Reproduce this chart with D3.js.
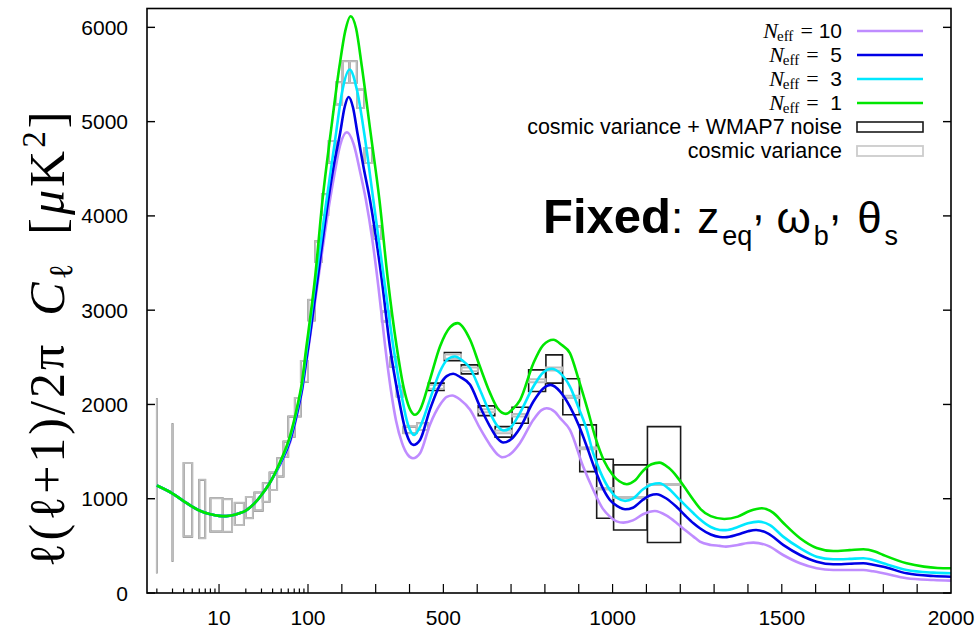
<!DOCTYPE html>
<html><head><meta charset="utf-8">
<script src="https://cdn.jsdelivr.net/npm/d3@7"></script>
<style>body{margin:0;background:#fff}</style>
</head><body>
<svg id="chart" width="980" height="629"></svg>
<script>
// ---- Power spectra D_l = l(l+1)C_l/2pi [muK^2] for four values of N_eff ----
const ell10 = [2,3,4,5,6,8,10,12,15,17,20,25,30,37,48,63,75,86,96,102,130,165,180,195,215,235,255,271,290,308,328,345,360,378,395,410,431,460,490,510,526,550,579,608,638,660,675,700,726,766,790,805,830,845,874,913,943,970,992,1012,1032,1060,1090,1110,1125,1160,1190,1215,1239,1258,1290,1317,1335,1370,1400,1416,1460,1504,1554,1603,1652,1700,1741,1770,1800,1869,1948,2000];
const cl10  = [1140,1055,975,915,875,835,818,815,830,846,875,950,1040,1164,1350,1600,1880,2150,2450,2615,3323,4172,4480,4750,4887,4760,4450,4172,3750,3250,2615,2150,1830,1590,1465,1430,1483,1783,1996,2080,2095,2050,1943,1748,1571,1470,1440,1480,1589,1837,1940,1960,1920,1855,1730,1341,1093,900,810,760,746,770,835,862,870,820,740,665,598,545,510,500,492,510,530,534,500,403,315,262,244,244,244,230,209,156,138,131];

const ell5 = [2,3,4,5,6,8,10,12,15,17,20,25,30,37,48,63,75,86,96,101,128,160,177,195,208,220,233,246,265,283,318,342,367,390,411,431,460,490,510,529,550,579,608,638,660,677,700,726,766,795,817,845,874,900,924,945,970,992,1015,1037,1060,1090,1110,1130,1160,1190,1215,1239,1258,1290,1317,1332,1370,1400,1424,1460,1504,1554,1603,1652,1700,1741,1770,1800,1869,1948,2000];
const cl5  = [1140,1055,975,915,875,835,818,815,830,846,875,950,1040,1164,1360,1620,1900,2170,2480,2615,3323,4172,4550,4880,5150,5262,5150,4880,4500,4172,3323,2615,2084,1700,1571,1624,1943,2208,2300,2325,2290,2208,1978,1765,1640,1596,1630,1748,2031,2170,2208,2137,1978,1780,1553,1340,1120,987,920,888,905,990,1035,1048,1000,910,820,740,687,620,594,591,620,655,669,630,510,403,332,305,310,315,300,279,209,180,173];

const ell3 = [2,3,4,5,6,8,10,12,15,17,20,25,30,37,48,63,75,86,96,100,121,155,183,200,223,245,266,293,325,352,377,395,414,431,460,490,510,534,555,579,608,638,660,679,700,726,766,795,820,845,874,900,924,943,963,992,1015,1037,1060,1090,1115,1138,1165,1190,1215,1239,1258,1290,1317,1335,1370,1400,1431,1465,1504,1554,1603,1652,1700,1741,1770,1800,1869,1948,2000];
const cl3  = [1140,1055,975,915,875,835,818,815,830,846,875,950,1040,1164,1370,1650,1940,2220,2560,2680,3280,4172,4880,5300,5552,5330,4880,4172,3323,2615,2084,1790,1677,1762,2049,2349,2470,2509,2470,2385,2155,1908,1770,1723,1760,1908,2190,2340,2378,2332,2190,1960,1730,1480,1290,1093,1005,977,1000,1100,1150,1164,1110,1020,930,846,782,700,669,667,700,740,757,720,598,475,385,358,362,368,350,315,244,216,209];

const ell1 = [2,3,4,5,6,8,10,12,15,17,20,25,30,37,48,63,75,86,96,100,121,143,167,193,210,226,242,259,285,311,336,362,382,400,416,431,460,490,520,542,579,608,638,660,685,705,727,766,795,825,850,874,900,925,950,975,1000,1020,1042,1065,1091,1115,1138,1165,1190,1215,1239,1260,1290,1330,1370,1405,1441,1475,1504,1554,1603,1652,1700,1741,1775,1800,1869,1920,1960,2000];
const cl1  = [1140,1055,975,915,875,835,818,815,830,846,875,950,1040,1164,1380,1670,1960,2250,2615,2740,3350,4172,4880,5587,5960,6118,5990,5587,4880,4172,3323,2615,2190,1960,1890,1943,2261,2615,2820,2863,2686,2402,2120,1960,1900,1950,2049,2438,2630,2686,2630,2545,2260,1960,1640,1400,1255,1185,1154,1190,1300,1365,1383,1330,1235,1110,987,890,815,785,810,870,899,850,745,581,478,446,455,464,440,403,315,280,266,262];

const seriesNeff   = ["10", " 5", " 3", " 1"];
const seriesColors = ["#bf8cff", "#0000e6", "#00e8ff", "#00e600"];

// ---- Binned error boxes around the fiducial spectrum ----
const binLo  = [2,3,4,6,8,11,15,20,25,31,37,45,53,60,71,83,101,121,141,161,183,202,223,245,267,291,318,343,362,382,422,456,503,553,603,653,703,752,803,853,903,953,1003,1103];
const binHi  = [2,3,5,7,11,14,19,24,31,37,45,53,60,71,83,100,120,140,160,182,201,222,244,266,290,317,342,361,381,421,455,502,552,602,652,702,751,802,852,902,952,1002,1102,1201];
const binMid = [1138,1066,988,890,828,822,840,905,970,1066,1185,1332,1526,1765,1970,2350,3000,3620,4120,4680,5300,5525,5525,5243,4641,3822,2933,2450,2137,1730,1765,2187,2508,2372,1933,1709,1886,2252,2376,2081,1535,1106,1014,1150];
const cvHalf = [929,735,390,310,177,172,118,112,96,98,92,98,80,106,98,110,110,110,110,115,118,115,115,98,80,67,53,50,53,35,35,20,22,20,16,14,14,16,16,12,10,8,5,5];
const totHalf= [929,735,390,310,177,172,118,112,96,98,92,98,80,106,98,110,110,110,110,115,118,115,115,98,80,67,53,50,53,35,35,39,43,48,52,56,85,115,150,191,248,313,345,615];

// ---- Axis ticks ----
const yTicks = [0,1000,2000,3000,4000,5000,6000];
const xLabelTicks = [10,100,500,1000,1500,2000];
const xMinorLog = [2,3,4,5,6,7,8,9,20,30,40,50,60,70,80,90];
const xMajorLin = [10,100,200,300,400,500,600,700,800,900,1000,1100,1200,1300,1400,1500,1600,1700,1800,1900];

const svg = d3.select("#chart");
const L = 147, R = 951, B = 593, T = 8.5, SPLIT = 308;

// log axis up to l=100, linear beyond
const xLog = d3.scaleLog().domain([1.55, 100]).range([L, SPLIT]);
const xLin = d3.scaleLinear().domain([100, 2000]).range([SPLIT, R]);
const x = l => (l <= 100 ? xLog(l) : xLin(l));
const y = d3.scaleLinear().domain([0, 6200]).range([B, T]);

svg.append("defs").append("clipPath").attr("id", "plotclip")
  .append("rect").attr("x", L).attr("y", T).attr("width", R - L).attr("height", B - T);

const plot = svg.append("g").attr("clip-path", "url(#plotclip)");

function boxPath(i, half) {
  const p = d3.path();
  const x0 = x(binLo[i]), x1 = x(binHi[i]);
  const yt = y(binMid[i] + half[i]), yb = y(binMid[i] - half[i]);
  p.moveTo(x0, yt); p.lineTo(x1, yt); p.lineTo(x1, yb); p.lineTo(x0, yb); p.closePath();
  return p.toString();
}

const idx = d3.range(binLo.length);
plot.append("g").selectAll("path").data(idx).join("path")
  .attr("d", i => boxPath(i, totHalf))
  .attr("fill", "none").attr("stroke", "#1a1a1a").attr("stroke-width", 1.6);
plot.append("g").selectAll("path").data(idx).join("path")
  .attr("d", i => boxPath(i, cvHalf))
  .attr("fill", "none").attr("stroke", "#bdbdbd").attr("stroke-width", 2);

// spectra, drawn N_eff = 10 first so that N_eff = 1 ends up on top
const curves = [[ell10, cl10], [ell5, cl5], [ell3, cl3], [ell1, cl1]];
const line = d3.line().x(d => x(d[0])).y(d => y(d[1])).curve(d3.curveMonotoneX);
curves.forEach(([ls, vs], k) => {
  plot.append("path")
    .attr("d", line(ls.map((l, j) => [l, vs[j]])))
    .attr("fill", "none")
    .attr("stroke", seriesColors[k])
    .attr("stroke-width", 2.6)
    .attr("stroke-linejoin", "round");
});

// frame and ticks
const axes = svg.append("g").attr("stroke", "#000");
axes.append("rect").attr("x", L).attr("y", T).attr("width", R - L).attr("height", B - T)
  .attr("fill", "none").attr("stroke-width", 1.6);
yTicks.forEach(v => {
  axes.append("line").attr("x1", L).attr("x2", L + 8).attr("y1", y(v)).attr("y2", y(v)).attr("stroke-width", 1.4);
  axes.append("line").attr("x1", R - 8).attr("x2", R).attr("y1", y(v)).attr("y2", y(v)).attr("stroke-width", 1.4);
});
xMinorLog.forEach(v => {
  axes.append("line").attr("x1", x(v)).attr("x2", x(v)).attr("y1", B).attr("y2", B - 4.5).attr("stroke-width", 1.2);
});
xMajorLin.forEach(v => {
  axes.append("line").attr("x1", x(v)).attr("x2", x(v)).attr("y1", B).attr("y2", B - 9).attr("stroke-width", 1.2);
});

const sans = "'Liberation Sans', Arial, Helvetica, sans-serif";
const tserif = "'Liberation Serif', 'DejaVu Serif', serif";

svg.append("g").selectAll("text").data(yTicks).join("text")
  .attr("x", 128).attr("y", v => y(v)).attr("dy", "0.36em")
  .attr("text-anchor", "end").attr("font-family", sans).attr("font-size", 21)
  .text(v => v);
svg.append("g").selectAll("text").data(xLabelTicks).join("text")
  .attr("x", v => x(v)).attr("y", 625)
  .attr("text-anchor", "middle").attr("font-family", sans).attr("font-size", 21)
  .text(v => v);

// y-axis title
const yt = svg.append("text")
  .attr("transform", "translate(64,338) rotate(-90)")
  .attr("text-anchor", "middle").attr("font-family", tserif).attr("font-size", 50)
  .attr("letter-spacing", 3);
yt.append("tspan").text("ℓ(ℓ+1)/2π");
yt.append("tspan").attr("dx", 26).attr("font-style", "italic").text("C");
yt.append("tspan").attr("font-size", 33).attr("dy", 8).text("ℓ");
yt.append("tspan").attr("dx", 26).attr("dy", -8).text("[");
yt.append("tspan").attr("font-style", "italic").text("μ");
yt.append("tspan").text("K");
yt.append("tspan").attr("font-size", 33).attr("dy", -19).text("2");
yt.append("tspan").attr("dy", 19).text("]");

// legend
const rowY = i => 31 + 24 * i;
seriesNeff.forEach((n, k) => {
  const t = svg.append("text").attr("x", 842).attr("y", rowY(k) + 7).attr("text-anchor", "end");
  t.append("tspan").attr("font-family", tserif).attr("font-style", "italic").attr("font-size", 22).text("N");
  t.append("tspan").attr("font-family", tserif).attr("font-size", 15).attr("dy", 3).attr("dx", -1).text("eff");
  t.append("tspan").attr("font-family", tserif).attr("font-size", 22).attr("dy", -3).attr("dx", 7).text("=");
  t.append("tspan").attr("font-family", sans).attr("font-size", 21).attr("xml:space", "preserve").text(" " + n);
  svg.append("line").attr("x1", 857).attr("x2", 923).attr("y1", rowY(k)).attr("y2", rowY(k))
    .attr("stroke", seriesColors[k]).attr("stroke-width", 2.4);
});
svg.append("text").attr("x", 842).attr("y", rowY(4) + 7).attr("text-anchor", "end")
  .attr("font-family", sans).attr("font-size", 21.5).text("cosmic variance + WMAP7 noise");
svg.append("rect").attr("x", 857).attr("y", rowY(4) - 5).attr("width", 66).attr("height", 10)
  .attr("fill", "none").attr("stroke", "#1a1a1a").attr("stroke-width", 1.6);
svg.append("text").attr("x", 842).attr("y", rowY(5) + 7).attr("text-anchor", "end")
  .attr("font-family", sans).attr("font-size", 21.5).text("cosmic variance");
svg.append("rect").attr("x", 857).attr("y", rowY(5) - 5).attr("width", 66).attr("height", 10)
  .attr("fill", "none").attr("stroke", "#cccccc").attr("stroke-width", 1.8);

// annotation
const ann = svg.append("text").attr("x", 543).attr("y", 233).attr("font-family", sans).attr("font-size", 44);
ann.append("tspan").attr("font-weight", "bold").attr("font-size", 49).text("Fixed");
ann.append("tspan").text(":");
ann.append("tspan").attr("dx", 14).text("z");
ann.append("tspan").attr("font-size", 27).attr("dy", 12).attr("dx", 3).text("eq");
ann.append("tspan").attr("dy", -25).text(",");
ann.append("tspan").attr("dy", 13).attr("dx", 12).text("ω");
ann.append("tspan").attr("font-size", 27).attr("dy", 12).attr("dx", 3).text("b");
ann.append("tspan").attr("dy", -25).text(",");
ann.append("tspan").attr("dy", 13).attr("dx", 16).text("θ");
ann.append("tspan").attr("font-size", 27).attr("dy", 12).attr("dx", 3).text("s");
</script>
</body></html>
